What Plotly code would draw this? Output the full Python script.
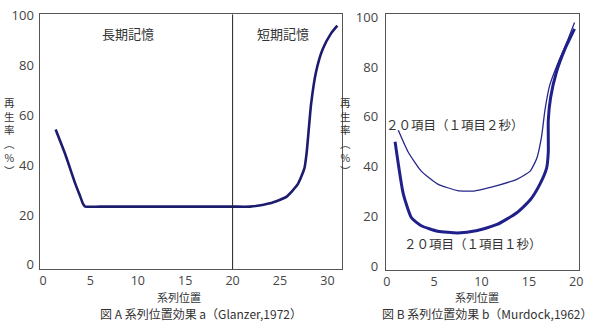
import plotly.graph_objects as go

# ---- data ----
a_x = [1.33, 2.38, 3.42, 3.94, 4.22, 4.46, 6, 10, 15, 20, 21.85, 23.93, 25.67, 26.88, 27.58, 27.82, 28.28, 28.8, 29.49, 30.37, 31.05]
a_y = [54.3, 44.0, 32.4, 27.3, 24.5, 23.4, 23.4, 23.4, 23.4, 23.4, 23.4, 24.7, 27.3, 32.4, 38.8, 45.3, 64.5, 77.4, 86.4, 92.8, 96.0]

b1_x = [0.88, 1.74, 2.61, 3.65, 5.39, 7.48, 9.57, 11.65, 13.73, 15.13, 16.17, 16.87, 17.05, 17.05, 17.29, 17.91, 18.78, 19.82]
b1_y = [50.0, 29.2, 19.5, 16.3, 14.1, 13.4, 14.4, 16.8, 21.5, 26.6, 33.0, 39.4, 45.9, 58.7, 67.7, 78.0, 87.0, 95.3]

b2_x = [1.22, 2.26, 3.65, 5.39, 7.48, 9.22, 10.95, 11.65, 13.73, 15.13, 15.83, 16.35, 16.69, 17.21, 18.09, 18.96, 19.82]
b2_y = [54.6, 45.9, 38.2, 33.0, 30.4, 30.2, 31.7, 32.4, 34.9, 38.2, 43.3, 52.3, 62.5, 72.8, 81.8, 89.5, 97.9]

x_ticks_a = [0, 5, 10, 15, 20, 25, 30]
x_ticks_b = [0, 5, 10, 15, 20]
y_ticks = [0, 20, 40, 60, 80, 100]
y_title = "再<br>生<br>率<br>︵<br>%<br>︶"

W, H = 600, 328
FONT = "Noto Sans CJK JP"
NUMFONT = "Open Sans"

def px(x):
    return x / W

def py(y):
    return 1 - y / H

fig = go.Figure()
fig.add_trace(go.Scatter(x=a_x, y=a_y, mode="lines", xaxis="x", yaxis="y",
                         line=dict(color="#1c1c6e", width=2.6, shape="spline", smoothing=0.5),
                         showlegend=False, hoverinfo="skip"))
fig.add_trace(go.Scatter(x=b2_x, y=b2_y, mode="lines", xaxis="x2", yaxis="y2",
                         line=dict(color="#26268c", width=1.3, shape="spline", smoothing=0.5),
                         showlegend=False, hoverinfo="skip"))
fig.add_trace(go.Scatter(x=b1_x, y=b1_y, mode="lines", xaxis="x2", yaxis="y2",
                         line=dict(color="#20208a", width=3, shape="spline", smoothing=0.5),
                         showlegend=False, hoverinfo="skip"))

axis_common = dict(showgrid=False, zeroline=False, showline=True, linecolor="#555555",
                   linewidth=1.2, mirror=True, ticks="", ticklabeloverflow="allow")
xtickfont = dict(family=NUMFONT, size=12.5, color="#444444")
ytickfont = dict(family=NUMFONT, size=13, color="#444444")

fig.update_layout(
    width=W, height=H,
    margin=dict(l=0, r=0, t=0, b=0),
    paper_bgcolor="white", plot_bgcolor="white",
    font=dict(family=FONT, color="#333333"),
    xaxis=dict(domain=[px(37), px(342.7)], range=[-0.365, 31.51], anchor="y",
               tickvals=x_ticks_a, ticklabelstandoff=0, tickfont=xtickfont, **axis_common),
    yaxis=dict(domain=[py(272), py(6.7)], range=[-1.73, 100.5], anchor="x",
               tickvals=y_ticks, ticklabelstandoff=2, tickfont=ytickfont, **axis_common),
    xaxis2=dict(domain=[px(387.3), px(582.7)], range=[-0.10, 20.28], anchor="y2",
                tickvals=x_ticks_b, ticklabelstandoff=0, tickfont=xtickfont, **axis_common),
    yaxis2=dict(domain=[py(272.3), py(6.7)], range=[-1.27, 101.1], anchor="x2",
                tickvals=y_ticks, ticklabelstandoff=4, tickfont=ytickfont, **axis_common),
)

fig.add_shape(type="line", xref="x", yref="y domain", x0=20, x1=20, y0=0, y1=1,
              line=dict(color="#222222", width=1))

def ann(text, x, y, size=13, color="#333333", family=FONT):
    fig.add_annotation(text=text, xref="paper", yref="paper", x=px(x), y=py(y),
                       xanchor="center", yanchor="middle", showarrow=False,
                       font=dict(family=family, size=size, color=color))

ann("長期記憶", 126.7, 26.7)
ann("短期記憶", 283.3, 26.7)
ann("２０項目（１項目２秒）", 457, 121, size=12.5)
ann("２０項目（１項目１秒）", 475.5, 245.5, size=12.5)
ann("系列位置", 178.3, 301, size=11)
ann("系列位置", 480, 301, size=11)
ann("図 A 系列位置効果 a（Glanzer,1972）", 200, 318, size=12)
ann("図 B 系列位置効果 b（Murdock,1962）", 490, 318, size=12)

ann(y_title, 7, 134, size=10.5)
ann(y_title, 347, 134, size=10.5)

fig.write_html("out.html")
